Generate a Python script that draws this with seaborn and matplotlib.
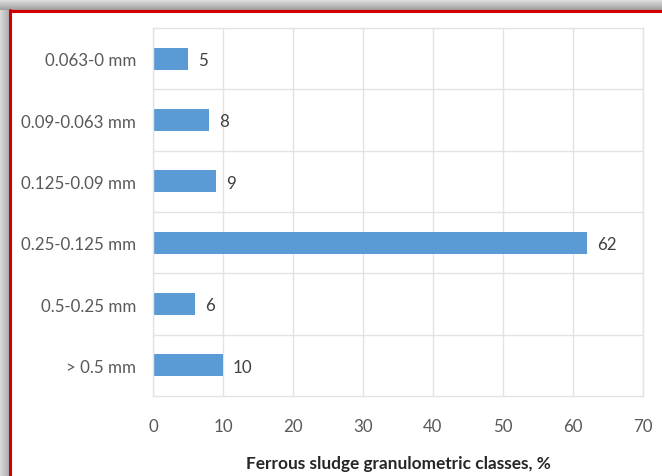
import numpy as np
import matplotlib
matplotlib.use("Agg")
import matplotlib.pyplot as plt
import seaborn as sns
import pandas as pd

# Granulometric classes of the ferrous sludge and their share (%)
classes = ["0.063-0 mm", "0.09-0.063 mm", "0.125-0.09 mm",
           "0.25-0.125 mm", "0.5-0.25 mm", "> 0.5 mm"]
shares = [5, 8, 9, 62, 6, 10]
x_ticks = [0, 10, 20, 30, 40, 50, 60, 70]

sns.set_theme(style="white")
plt.rcParams["font.family"] = ["Lato", "DejaVu Sans"]

df = pd.DataFrame({"cls": classes, "share": shares})

W, H = 662, 477
fig = plt.figure(figsize=(W / 100, H / 100), dpi=100)
fig.patch.set_facecolor("white")

# Drop shadow along the top and left edges of the frame
sh_left = fig.add_axes([0, 0, 9 / W, 1])
grad = np.linspace(0.86, 0.68, 64).reshape(1, -1)
sh_left.imshow(np.dstack([grad] * 3), aspect="auto", extent=[0, 1, 0, 1])
sh_left.axis("off")
sh_top = fig.add_axes([0, 1 - 11 / H, 1, 11 / H])
gradt = np.linspace(0.90, 0.62, 64).reshape(-1, 1)
sh_top.imshow(np.dstack([np.repeat(gradt, 4, axis=1)] * 3), aspect="auto",
              extent=[0, 1, 0, 1])
sh_top.axis("off")

# Red frame lines
fig.add_artist(plt.Line2D([9.5 / W, 9.5 / W], [0, 1 - 11 / H], transform=fig.transFigure,
                          color="#d00000", lw=2.2))
fig.add_artist(plt.Line2D([9.5 / W, 1], [1 - 12 / H, 1 - 12 / H], transform=fig.transFigure,
                          color="#d00000", lw=2.2))

ax = fig.add_axes([153 / W, 1 - 397 / H, (643 - 153) / W, (397 - 29) / H])
sns.barplot(data=df, x="share", y="cls", order=classes, orient="h",
            color="#5B9BD5", saturation=1, width=0.36, ax=ax, edgecolor="none")

ax.set_xlim(0, 70)
ax.set_ylim(5.5, -0.5)
ax.set_xticks(x_ticks)
ax.set_xticklabels([str(t) for t in x_ticks])
ax.set_yticks(range(len(classes)))
ax.set_yticklabels(classes)
ax.set_yticks(np.arange(0.5, len(classes) - 0.5, 1), minor=True)

grid_c = "#e3e3e3"
ax.grid(True, axis="x", color=grid_c, lw=1)
ax.grid(True, axis="y", which="minor", color=grid_c, lw=1)
ax.grid(False, axis="y", which="major")
ax.set_axisbelow(True)
for s in ax.spines.values():
    s.set_color(grid_c)
    s.set_linewidth(1)

ax.tick_params(axis="both", which="both", length=0, labelsize=12.2,
               labelcolor="#595959")
ax.tick_params(axis="x", pad=16)
ax.tick_params(axis="y", pad=12)

ax.set_ylabel("")
ax.set_xlabel("Ferrous sludge granulometric classes, %", fontsize=12.4,
              fontweight="bold", color="#262626", labelpad=15)

for i, v in enumerate(shares):
    ax.annotate(str(v), xy=(v, i), xytext=(7, -1), textcoords="offset points",
                ha="left", va="center", fontsize=12.2, color="#404040")

fig.savefig("out.png", dpi=100)
